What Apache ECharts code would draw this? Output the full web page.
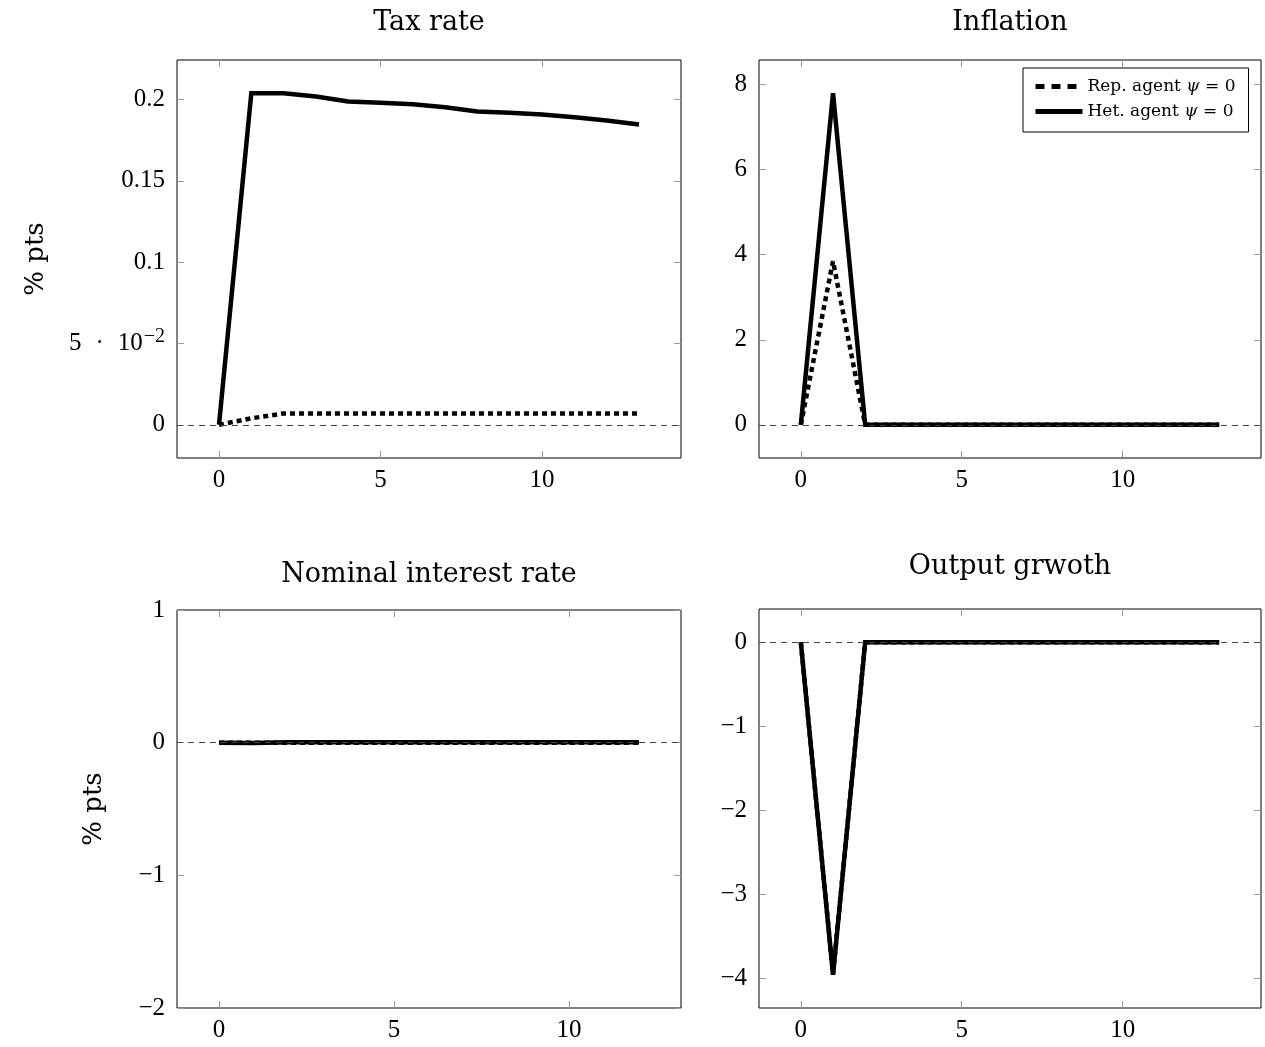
<!DOCTYPE html>
<html><head><meta charset="utf-8">
<script src="https://cdn.jsdelivr.net/npm/echarts@6/dist/echarts.min.js"></script>
<style>html,body{margin:0;padding:0;background:#fff}#c{width:1265px;height:1047px}</style>
</head><body><div id="c"></div>
<script>
// ---- data ----
const periodsLong = [0,1,2,3,4,5,6,7,8,9,10,11,12,13];
const periodsShort = [0,1,2,3,4,5,6,7,8,9,10,11,12];
const xTickValues = [0,5,10];

const taxRep = [0, 0.004, 0.007, 0.007, 0.007, 0.007, 0.007, 0.007, 0.007, 0.007, 0.007, 0.007, 0.007, 0.007];
const taxHet = [0, 0.2039, 0.2039, 0.2018, 0.1988, 0.1980, 0.1971, 0.1953, 0.1926, 0.1918, 0.1908, 0.1891, 0.1871, 0.1847];
const taxTicks = [0, 0.05, 0.1, 0.15, 0.2];

const inflRep = [0, 3.85, 0, 0, 0, 0, 0, 0, 0, 0, 0, 0, 0, 0];
const inflHet = [0, 7.8, 0, 0, 0, 0, 0, 0, 0, 0, 0, 0, 0, 0];
const inflTicks = [0, 2, 4, 6, 8];

const rateRep = [0, 0, 0, 0, 0, 0, 0, 0, 0, 0, 0, 0, 0];
const rateHet = [0, -0.002, 0.003, 0.004, 0.004, 0.004, 0.004, 0.004, 0.004, 0.004, 0.004, 0.003, 0.003];
const rateTicks = [-2, -1, 0, 1];

const growthRep = [0, -3.95, 0, 0, 0, 0, 0, 0, 0, 0, 0, 0, 0, 0];
const growthHet = [0, -3.96, 0, 0, 0, 0, 0, 0, 0, 0, 0, 0, 0, 0];
const growthTicks = [-4, -3, -2, -1, 0];

const titles = ['Tax rate', 'Inflation', 'Nominal interest rate', 'Output grwoth'];
const repName = 'Rep. agent ψ = 0';
const hetName = 'Het. agent ψ = 0';

// ---- layout / style ----
const FONT = '"Liberation Serif", "Times New Roman", serif';
const TFONT = '"DejaVu Serif", serif';
const grids = [
  {left:177, top:60, width:504, height:398},
  {left:759, top:60, width:502, height:398},
  {left:177, top:610, width:504, height:398},
  {left:759, top:609, width:502, height:399}
];
const xRanges = [[-1.3,14.3],[-1.3,14.3],[-1.2,13.2],[-1.3,14.3]];
const yRanges = [[-0.0204,0.2243],[-0.78,8.58],[-2,1],[-4.356,0.396]];
const yTicks = [taxTicks, inflTicks, rateTicks, growthTicks];
const xs = [periodsLong, periodsLong, periodsShort, periodsLong];
const reps = [taxRep, inflRep, rateRep, growthRep];
const hets = [taxHet, inflHet, rateHet, growthHet];

function fmt(v){
  if (Math.abs(v-0.05) < 1e-9) return '{m|5}{d|·}{m|10}{s|−2}';
  let s = String(+(+v).toFixed(4));
  return '{m|' + s.replace('-', '−') + '}';
}
const tickStyle = {show:true, inside:true, length:7, lineStyle:{color:'#999', width:1}};
const noLine = {show:false, onZero:false};
const labelRich = {
  m:{fontFamily:FONT, fontSize:25, color:'#000'},
  d:{fontFamily:FONT, fontSize:25, color:'#000', padding:[0,14,0,14]},
  s:{fontFamily:FONT, fontSize:20, color:'#000', padding:[0,0,14,1]}
};

const xAxis = [], yAxis = [], series = [], title = [];
grids.forEach((g, i) => {
  xAxis.push({type:'value', gridIndex:i, position:'bottom', min:xRanges[i][0], max:xRanges[i][1],
    axisLine:noLine, splitLine:{show:false},
    axisTick:Object.assign({customValues:xTickValues}, tickStyle),
    axisLabel:{customValues:xTickValues, margin:10, color:'#000', fontFamily:FONT, fontSize:25, formatter:fmt, rich:labelRich}});
  xAxis.push({type:'value', gridIndex:i, position:'top', min:xRanges[i][0], max:xRanges[i][1],
    axisLine:noLine, splitLine:{show:false},
    axisTick:Object.assign({customValues:xTickValues}, tickStyle), axisLabel:{show:false}});
  const yl = {type:'value', gridIndex:i, position:'left', min:yRanges[i][0], max:yRanges[i][1],
    axisLine:noLine, splitLine:{show:false},
    axisTick:Object.assign({customValues:yTicks[i]}, tickStyle),
    axisLabel:{customValues:yTicks[i], margin:12, color:'#000', fontFamily:FONT, fontSize:25, formatter:fmt, rich:labelRich}};
  if (i === 0 || i === 2) {
    yl.name = '% pts'; yl.nameLocation = 'middle'; yl.nameRotate = 90;
    yl.nameGap = i === 0 ? 128 : 70;
    yl.nameTextStyle = {fontFamily:TFONT, fontSize:26, color:'#000'};
  }
  yAxis.push(yl);
  yAxis.push({type:'value', gridIndex:i, position:'right', min:yRanges[i][0], max:yRanges[i][1],
    axisLine:noLine, splitLine:{show:false},
    axisTick:Object.assign({customValues:yTicks[i]}, tickStyle), axisLabel:{show:false}});
  series.push({type:'line', name:'zero', xAxisIndex:2*i, yAxisIndex:2*i, data:[], z:1,
    markLine:{silent:true, symbol:['none','none'], label:{show:false},
      lineStyle:{color:'#444', width:1, type:[6,5]}, data:[{yAxis:0}]}});
  series.push({type:'line', name:repName, xAxisIndex:2*i, yAxisIndex:2*i, z:3,
    showSymbol:false, symbol:'none', animation:false, color:'#000',
    lineStyle:{color:'#000', width:4.5, type:[5,4]},
    data: xs[i].map((t,k) => [t, reps[i][k]])});
  series.push({type:'line', name:hetName, xAxisIndex:2*i, yAxisIndex:2*i, z:4,
    showSymbol:false, symbol:'none', animation:false, color:'#000',
    lineStyle:{color:'#000', width:4.5, join:'miter'},
    data: xs[i].map((t,k) => [t, hets[i][k]])});
  title.push({text:titles[i], left:g.left + g.width/2, textAlign:'center',
    top:[9, 9, 561, 553][i], padding:0,
    textStyle:{fontFamily:TFONT, fontSize:27, fontWeight:'normal', color:'#000'}});
});

const chart = echarts.init(document.getElementById('c'), null, {renderer:'canvas'});
chart.setOption({
  animation:false,
  backgroundColor:'#fff',
  title: title,
  grid: grids.map(g => Object.assign({show:true, borderColor:'#000', borderWidth:1, backgroundColor:'transparent'}, g)),
  xAxis: xAxis,
  yAxis: yAxis,
  legend: {
    data:[
      {name:repName, lineStyle:{width:5, type:[9,7], color:'#000'}},
      {name:hetName, lineStyle:{width:5, type:'solid', color:'#000'}}
    ],
    orient:'vertical', left:1023, top:68,
    borderColor:'#000', borderWidth:1, padding:[10,13,12,10], itemGap:8,
    itemWidth:47, itemHeight:18, selectedMode:false,
    itemStyle:{opacity:0},
    formatter: function(n){ return n === repName ? '{a|Rep. agent }{i|ψ}{a| = 0}' : '{a|Het. agent }{i|ψ}{a| = 0}'; },
    textStyle:{fontFamily:TFONT, fontSize:17, color:'#000',
      rich:{a:{fontFamily:TFONT, fontSize:17, color:'#000'}, i:{fontFamily:TFONT, fontSize:17, fontStyle:'italic', color:'#000'}}}
  },
  series: series
});
</script></body></html>
